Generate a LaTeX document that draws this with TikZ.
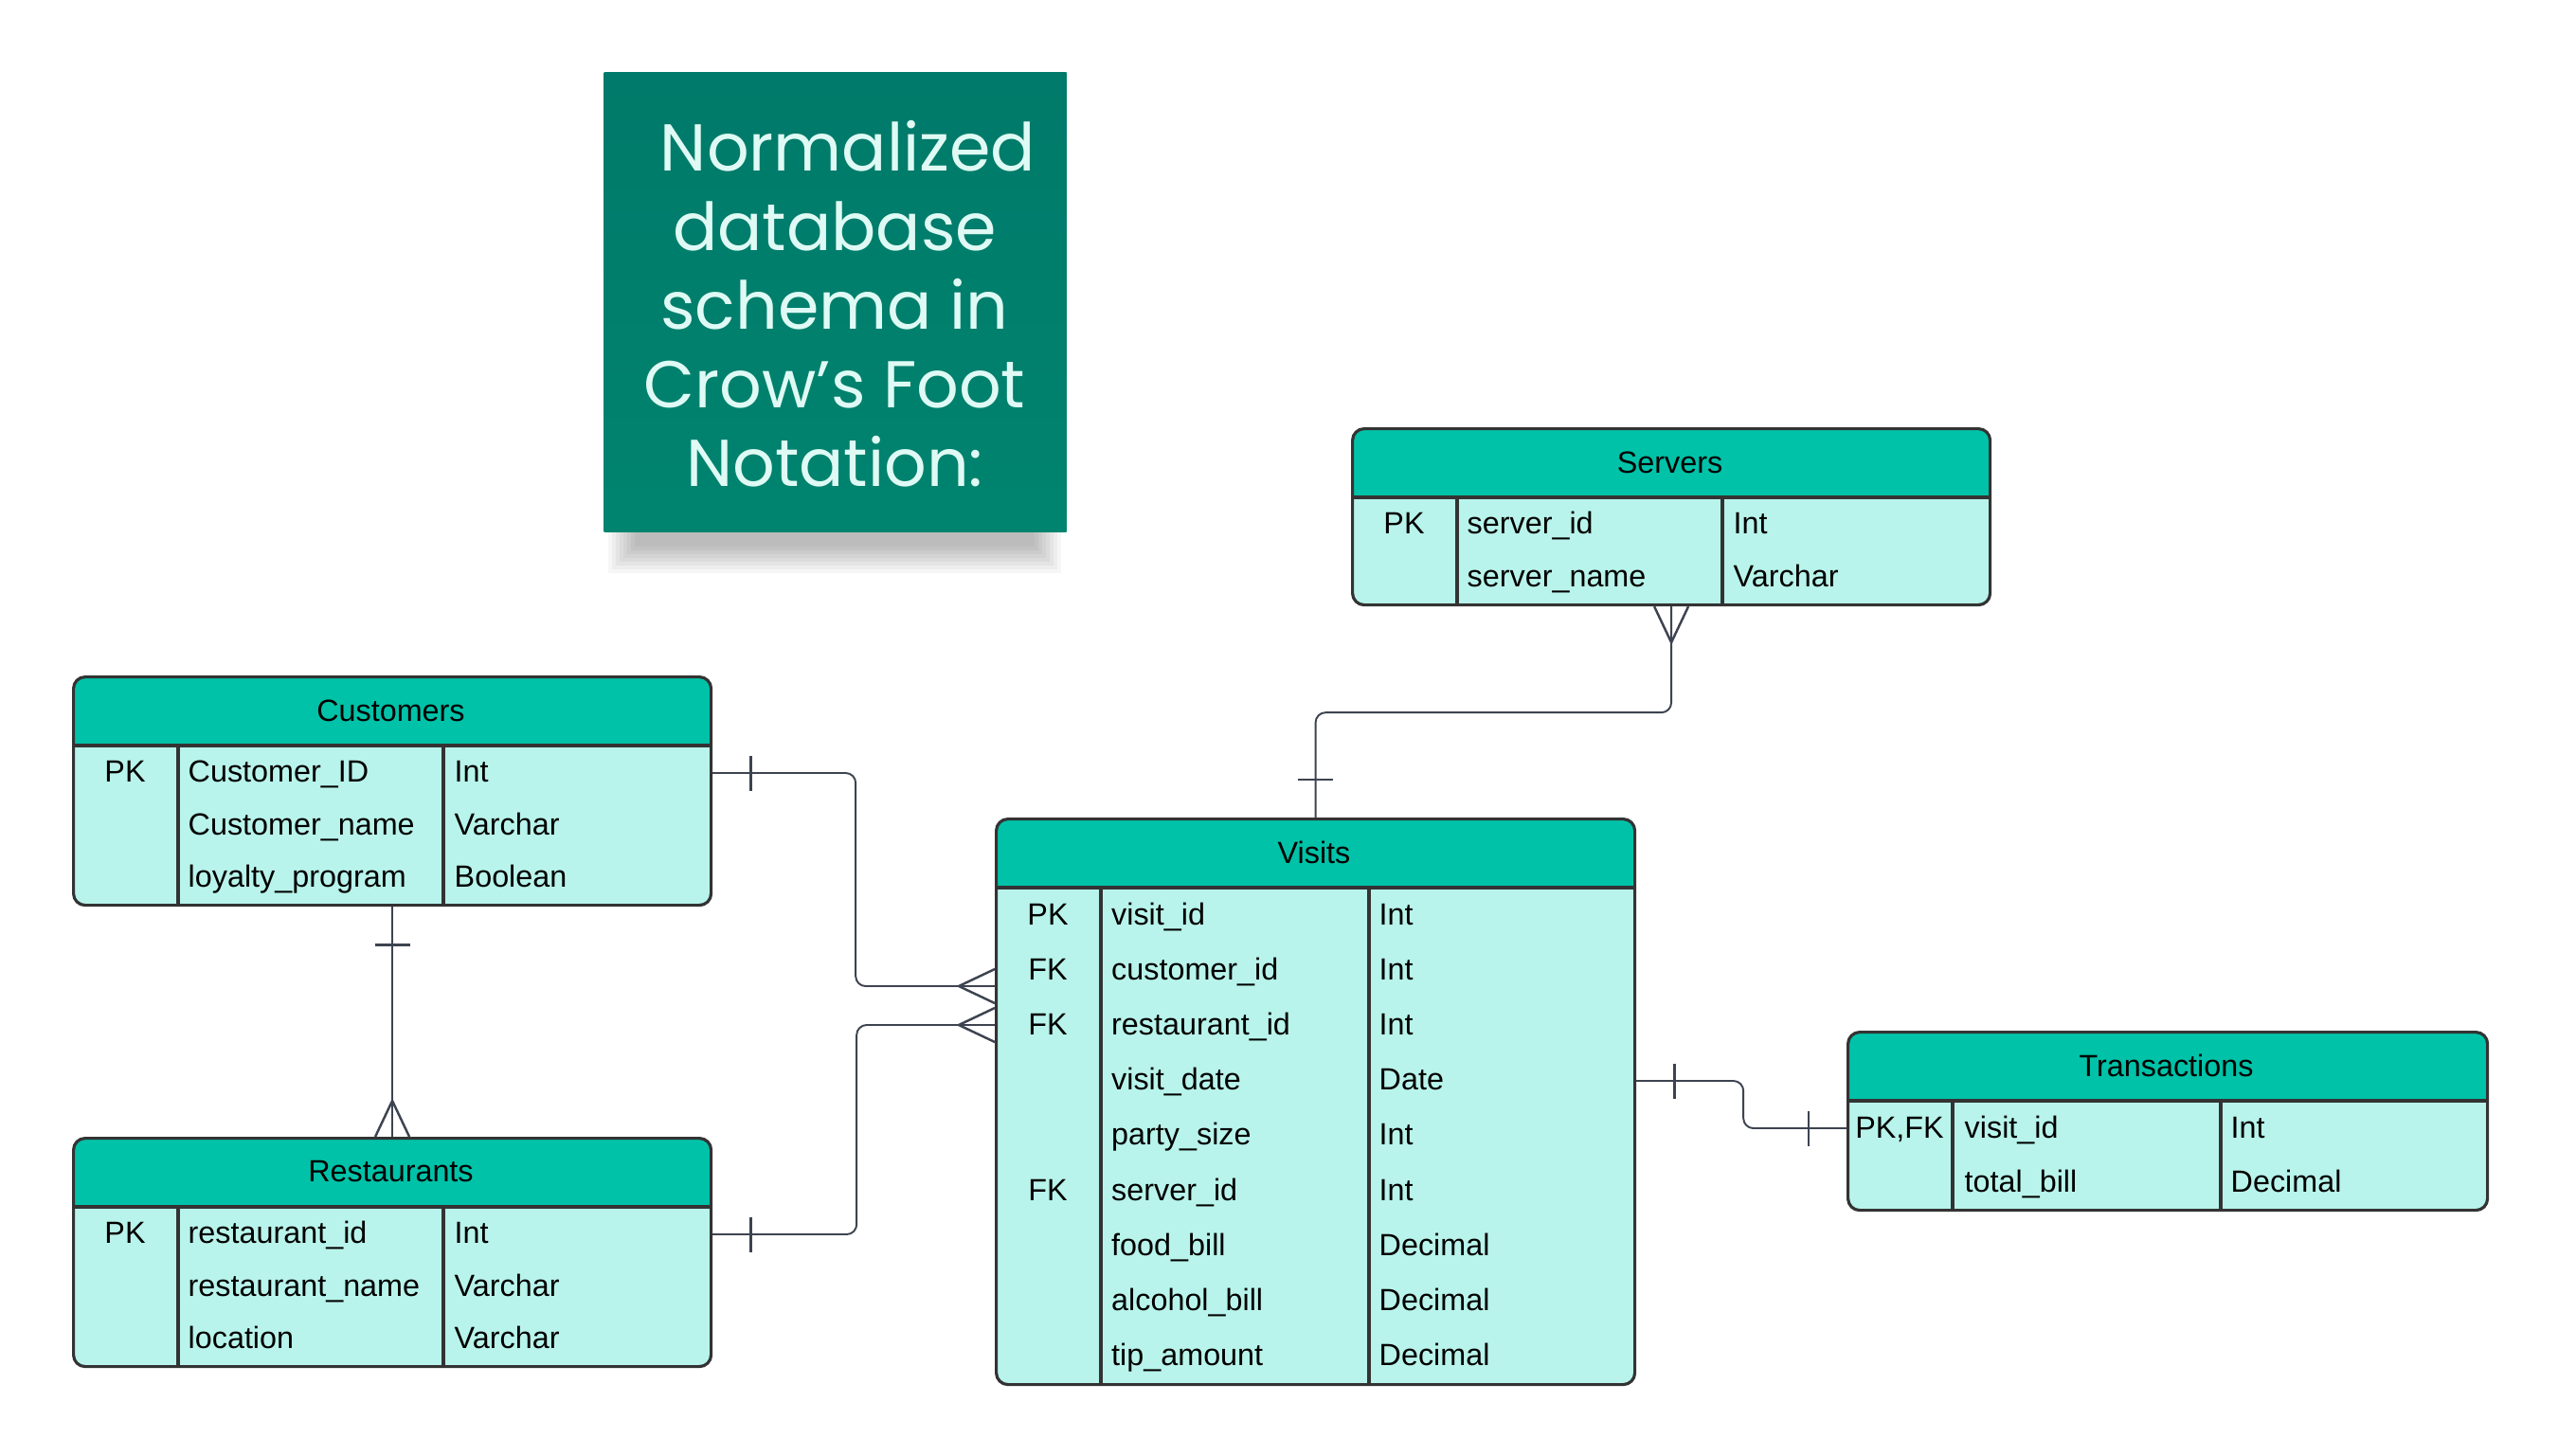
\documentclass[tikz,border=0pt]{standalone}
\usepackage{fontspec}
\setmainfont{Liberation Sans}
\newfontfamily\titlefont{Poppins}
\usepackage{tikz}

\definecolor{headteal}{HTML}{00C2A8}
\definecolor{bodymint}{HTML}{B8F4EB}
\definecolor{framegray}{HTML}{333333}
\definecolor{linkgray}{HTML}{3D4350}
\definecolor{titlegreen}{HTML}{00846F}
\definecolor{titletop}{HTML}{007A6A}
\definecolor{titleink}{HTML}{DFFAF4}

\tikzset{
    erdtable/.style={draw=framegray,line width=0.9pt,rounded corners=3.5pt,fill=bodymint,anchor=north west,inner sep=0pt,
        path picture={\fill[headteal,sharp corners] (path picture bounding box.north west) rectangle ([yshift=-0.74cm]path picture bounding box.north east);}},
    rule/.style={draw=framegray,line width=0.9pt},
    headtext/.style={inner sep=0pt,font={\fontsize{9.2}{11}\selectfont}},
    keycell/.style={inner sep=0pt,text height=1.6ex,text depth=0.45ex,font={\fontsize{9.2}{11}\selectfont}},
    namecell/.style={keycell,anchor=west},
    typecell/.style={keycell,anchor=west},
    link/.style={draw=linkgray,line width=0.55pt,rounded corners=3pt},
    onebar/.pic={\draw[draw=linkgray,line width=0.8pt] (-0.40,-0.185) -- (-0.40,0.185);},
    crowfoot/.pic={\draw[draw=linkgray,line width=0.7pt] (0,0.18) -- (-0.38,0) -- (0,-0.18);},
    titlebox/.style={top color=titletop,bottom color=titlegreen,anchor=north west,inner sep=0pt},
    titletext/.style={align=center,text=titleink,font={\titlefont\fontsize{19.9}{23.7}\selectfont}}
}

\begin{document}
\begin{tikzpicture}
                    \fill[white] (0,0) rectangle (27,-15.36);
                    \useasboundingbox (0,0) rectangle (27,-15.36);

                    \foreach \s in {0,0.04,...,0.28}
                        \fill[black,opacity=0.035] (6.42+\s,-1.0) rectangle (11.20-\s,-6.05+\s);
                    \node[titlebox,minimum width=4.88cm,minimum height=4.85cm](title) at (6.37,-0.76){};
                    \node[titletext](title-text) at (8.81,-3.21){\hspace{0.28cm}Normalized\\database\\schema in\\Crow’s Foot\\Notation:};

                    \node[erdtable,minimum width=6.73cm,minimum height=2.41cm](cust) at (0.76,-7.13){};
                    \node[headtext](cust-h) at (4.125,-7.50){Customers};
                    \draw[rule] (0.76,-7.87)--(7.49,-7.87) (1.88,-7.87)--(1.88,-9.54) (4.68,-7.87)--(4.68,-9.54);
                    \node[keycell](cust-k1) at (1.32,-8.15){PK};
                    \node[namecell](cust-n1) at (1.98,-8.15){Customer\_ID};
                    \node[typecell](cust-t1) at (4.79,-8.15){Int};
                    \node[namecell](cust-n2) at (1.98,-8.71){Customer\_name};
                    \node[typecell](cust-t2) at (4.79,-8.71){Varchar};
                    \node[namecell](cust-n3) at (1.98,-9.26){loyalty\_program};
                    \node[typecell](cust-t3) at (4.79,-9.26){Boolean};

                    \node[erdtable,minimum width=6.73cm,minimum height=2.41cm](rest) at (0.76,-12.00){};
                    \node[headtext](rest-h) at (4.125,-12.37){Restaurants};
                    \draw[rule] (0.76,-12.74)--(7.49,-12.74) (1.88,-12.74)--(1.88,-14.41) (4.68,-12.74)--(4.68,-14.41);
                    \node[keycell](rest-k1) at (1.32,-13.02){PK};
                    \node[namecell](rest-n1) at (1.98,-13.02){restaurant\_id};
                    \node[typecell](rest-t1) at (4.79,-13.02){Int};
                    \node[namecell](rest-n2) at (1.98,-13.58){restaurant\_name};
                    \node[typecell](rest-t2) at (4.79,-13.58){Varchar};
                    \node[namecell](rest-n3) at (1.98,-14.13){location};
                    \node[typecell](rest-t3) at (4.79,-14.13){Varchar};

                    \node[erdtable,minimum width=6.73cm,minimum height=1.86cm](serv) at (14.26,-4.51){};
                    \node[headtext](serv-h) at (17.625,-4.88){Servers};
                    \draw[rule] (14.26,-5.25)--(20.99,-5.25) (15.38,-5.25)--(15.38,-6.37) (18.18,-5.25)--(18.18,-6.37);
                    \node[keycell](serv-k1) at (14.82,-5.53){PK};
                    \node[namecell](serv-n1) at (15.48,-5.53){server\_id};
                    \node[typecell](serv-t1) at (18.29,-5.53){Int};
                    \node[namecell](serv-n2) at (15.48,-6.09){server\_name};
                    \node[typecell](serv-t2) at (18.29,-6.09){Varchar};

                    \node[erdtable,minimum width=6.74cm,minimum height=5.97cm](visits) at (10.50,-8.63){};
                    \node[headtext](visits-h) at (13.87,-9.00){Visits};
                    \draw[rule] (10.50,-9.37)--(17.24,-9.37) (11.62,-9.37)--(11.62,-14.60) (14.45,-9.37)--(14.45,-14.60);
                    \node[keycell](visits-k1) at (11.06,-9.66){PK};
                    \node[namecell](visits-n1) at (11.725,-9.66){visit\_id};
                    \node[typecell](visits-t1) at (14.55,-9.66){Int};
                    \node[keycell](visits-k2) at (11.06,-10.24){FK};
                    \node[namecell](visits-n2) at (11.725,-10.24){customer\_id};
                    \node[typecell](visits-t2) at (14.55,-10.24){Int};
                    \node[keycell](visits-k3) at (11.06,-10.82){FK};
                    \node[namecell](visits-n3) at (11.725,-10.82){restaurant\_id};
                    \node[typecell](visits-t3) at (14.55,-10.82){Int};
                    \node[namecell](visits-n4) at (11.725,-11.40){visit\_date};
                    \node[typecell](visits-t4) at (14.55,-11.40){Date};
                    \node[namecell](visits-n5) at (11.725,-11.98){party\_size};
                    \node[typecell](visits-t5) at (14.55,-11.98){Int};
                    \node[keycell](visits-k6) at (11.06,-12.57){FK};
                    \node[namecell](visits-n6) at (11.725,-12.57){server\_id};
                    \node[typecell](visits-t6) at (14.55,-12.57){Int};
                    \node[namecell](visits-n7) at (11.725,-13.15){food\_bill};
                    \node[typecell](visits-t7) at (14.55,-13.15){Decimal};
                    \node[namecell](visits-n8) at (11.725,-13.73){alcohol\_bill};
                    \node[typecell](visits-t8) at (14.55,-13.73){Decimal};
                    \node[namecell](visits-n9) at (11.725,-14.31){tip\_amount};
                    \node[typecell](visits-t9) at (14.55,-14.31){Decimal};

                    \node[erdtable,minimum width=6.75cm,minimum height=1.88cm](trans) at (19.49,-10.88){};
                    \node[headtext](trans-h) at (22.865,-11.25){Transactions};
                    \draw[rule] (19.49,-11.62)--(26.24,-11.62) (20.61,-11.62)--(20.61,-12.76) (23.44,-11.62)--(23.44,-12.76);
                    \node[keycell](trans-k1) at (20.05,-11.91){PK,FK};
                    \node[namecell](trans-n1) at (20.73,-11.91){visit\_id};
                    \node[typecell](trans-t1) at (23.54,-11.91){Int};
                    \node[namecell](trans-n2) at (20.73,-12.48){total\_bill};
                    \node[typecell](trans-t2) at (23.54,-12.48){Decimal};

                    \draw[link] ([yshift=-1.03cm]cust.north east) -- ++(1.51,0) |- ([yshift=-1.78cm]visits.north west);
                    \draw[link] ([yshift=-1.03cm]rest.north east) -- ++(1.52,0) |- ([yshift=-2.19cm]visits.north west);
                    \draw[link] (cust.south) -- (rest.north);
                    \draw[link] (serv.south) -- ++(0,-1.12) -| (visits.north);
                    \draw[link] ([yshift=-2.78cm]visits.north east) -- ++(1.13,0) |- ([yshift=-1.03cm]trans.north west);

                    \pic[rotate=180] at ([yshift=-1.03cm]cust.north east) {onebar};
                    \pic at ([yshift=-1.78cm]visits.north west) {crowfoot};
                    \pic[rotate=180] at ([yshift=-1.03cm]rest.north east) {onebar};
                    \pic at ([yshift=-2.19cm]visits.north west) {crowfoot};
                    \pic[rotate=90] at (cust.south) {onebar};
                    \pic[rotate=-90] at (rest.north) {crowfoot};
                    \pic[rotate=90] at (serv.south) {crowfoot};
                    \pic[rotate=-90] at (visits.north) {onebar};
                    \pic[rotate=180] at ([yshift=-2.78cm]visits.north east) {onebar};
                    \pic at ([yshift=-1.03cm]trans.north west) {onebar};
                \end{tikzpicture}
\end{document}
